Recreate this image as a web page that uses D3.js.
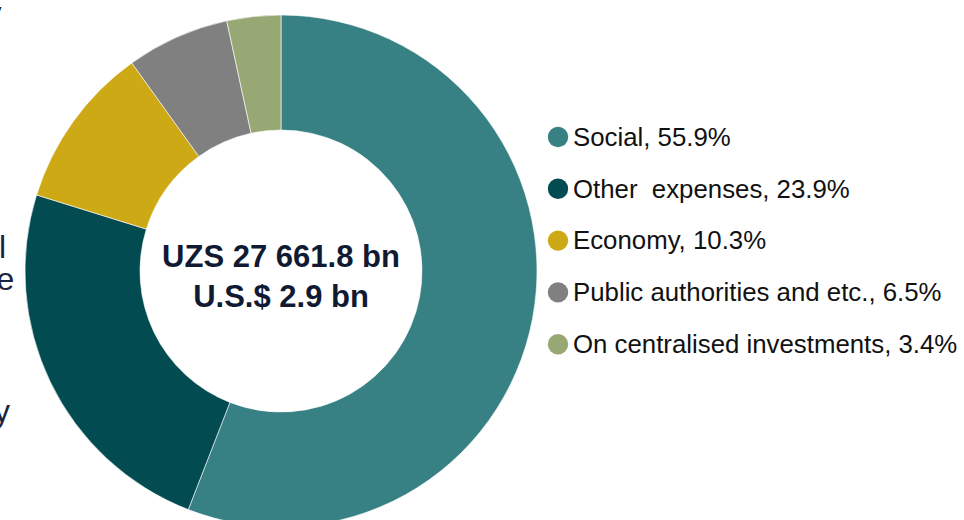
<!DOCTYPE html>
<html>
<head>
<meta charset="utf-8">
<script src="https://cdn.jsdelivr.net/npm/d3@7"></script>
<style>
  html, body { margin: 0; padding: 0; background: #ffffff; }
  svg { display: block; }
  text { font-family: "Liberation Sans", Arial, sans-serif; }
</style>
</head>
<body>
<svg id="chart" width="964" height="520"></svg>
<script>
// Budget expenditure structure, shares in percent
const categories = [
  "Social",
  "Other  expenses",
  "Economy",
  "Public authorities and etc.",
  "On centralised investments"
];
const shares = [55.9, 23.9, 10.3, 6.5, 3.4];
const colors = ["#378083", "#024b50", "#cea916", "#808080", "#98a874"];
const centerLines = ["UZS 27 661.8 bn", "U.S.$ 2.9 bn"];

const svg = d3.select("#chart");
const cx = 281, cy = 271;
const outerR = 256, innerR = 141;

// Clipped edge of the neighbouring text column on the left
const edge = svg.append("g").attr("fill", "#1a2440").style("font-size", "32px");
[["y", -14.5, 24], ["l", -1, 258], ["e", -3.5, 290], ["y", -6, 422]].forEach(([t, x, y]) => {
  edge.append("text").attr("x", x).attr("y", y).text(t);
});

const color = d3.scaleOrdinal().domain(categories).range(colors);

const pie = d3.pie()
  .sort(null)
  .value(d => d.value)
  .startAngle(0)
  .endAngle(2 * Math.PI);

const arc = d3.arc().innerRadius(innerR).outerRadius(outerR);

const data = categories.map((c, i) => ({ name: c, value: shares[i] }));

const g = svg.append("g").attr("transform", `translate(${cx},${cy})`);

g.selectAll("path")
  .data(pie(data))
  .join("path")
  .attr("d", arc)
  .attr("fill", d => color(d.data.name))
  .attr("stroke", "#ffffff")
  .attr("stroke-width", 0.6);

// Totals in the donut hole
g.selectAll("text.total")
  .data(centerLines)
  .join("text")
  .attr("class", "total")
  .attr("text-anchor", "middle")
  .attr("x", 0)
  .attr("y", (d, i) => -4.5 + i * 40.5)
  .attr("fill", "#101a33")
  .style("font-size", "31px")
  .style("font-weight", "bold")
  .text(d => d);

// Legend
const legend = svg.append("g").attr("transform", "translate(558,137)");
const row = legend.selectAll("g")
  .data(data)
  .join("g")
  .attr("transform", (d, i) => `translate(0,${i * 51.8})`);

row.append("circle")
  .attr("r", 10.2)
  .attr("fill", d => color(d.name));

row.append("text")
  .attr("x", 15)
  .attr("y", 8.7)
  .attr("fill", "#111111")
  .style("font-size", "25.8px")
  .style("white-space", "pre")
  .text(d => `${d.name}, ${d3.format(".1f")(d.value)}%`);
</script>
</body>
</html>
